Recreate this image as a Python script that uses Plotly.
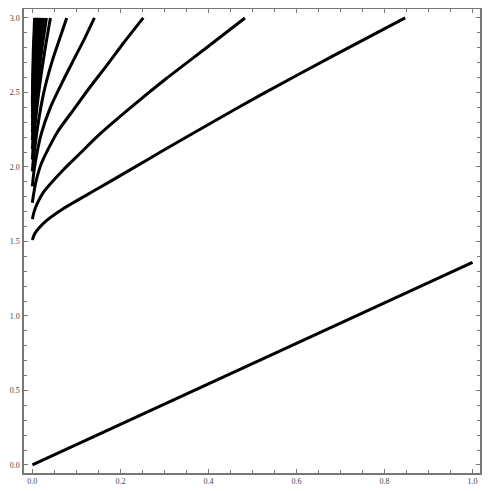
import plotly.graph_objects as go

# straight line
line_x = [0.0, 1.0]
line_y = [0.0, 1.36]

# main curves
c1_x = [0.0, 0.005, 0.015, 0.032, 0.07, 0.146, 0.222, 0.297, 0.403, 0.517, 0.68, 0.847]
c1_y = [1.51, 1.55, 1.59, 1.64, 1.72, 1.85, 1.98, 2.11, 2.29, 2.48, 2.74, 3.0]
c2_x = [0.0, 0.004, 0.012, 0.025, 0.07, 0.108, 0.153, 0.23, 0.305, 0.40, 0.483]
c2_y = [1.65, 1.70, 1.76, 1.83, 1.98, 2.09, 2.22, 2.415, 2.595, 2.81, 3.0]
c3_x = [0.0, 0.003, 0.008, 0.02, 0.056, 0.095, 0.132, 0.17, 0.208, 0.252]
c3_y = [1.76, 1.82, 1.90, 2.02, 2.23, 2.39, 2.54, 2.685, 2.835, 3.0]
c4_x = [0.0, 0.002, 0.005, 0.02, 0.041, 0.07, 0.094, 0.12, 0.141]
c4_y = [1.87, 1.93, 2.00, 2.22, 2.40, 2.58, 2.72, 2.87, 3.0]
c5_x = [0.0, 0.001, 0.004, 0.012, 0.026, 0.045, 0.062, 0.078]
c5_y = [1.97, 2.01, 2.09, 2.27, 2.50, 2.71, 2.86, 3.0]
c6_x = [0.0, 0.001, 0.003, 0.01, 0.02, 0.031, 0.041]
c6_y = [2.05, 2.10, 2.18, 2.39, 2.62, 2.83, 3.0]

# dense fan of curves near x = 0
f1_x = [0.0, 0.004, 0.012, 0.022, 0.032]
f1_y = [2.12, 2.30, 2.55, 2.80, 3.0]
f2_x = [0.0, 0.004, 0.010, 0.018, 0.026]
f2_y = [2.18, 2.38, 2.60, 2.83, 3.0]
f3_x = [0.0, 0.003, 0.008, 0.014, 0.021]
f3_y = [2.23, 2.42, 2.63, 2.84, 3.0]
f4_x = [0.0, 0.003, 0.007, 0.012, 0.017]
f4_y = [2.28, 2.47, 2.67, 2.86, 3.0]
f5_x = [0.0, 0.002, 0.005, 0.009, 0.013]
f5_y = [2.33, 2.50, 2.70, 2.88, 3.0]
f6_x = [0.0, 0.002, 0.004, 0.007, 0.010]
f6_y = [2.37, 2.54, 2.72, 2.89, 3.0]
f7_x = [0.0, 0.001, 0.003, 0.005, 0.007]
f7_y = [2.41, 2.57, 2.75, 2.90, 3.0]
f8_x = [0.0, 0.001, 0.002, 0.004, 0.005]
f8_y = [2.45, 2.60, 2.77, 2.92, 3.0]

x_ticks = [0.0, 0.2, 0.4, 0.6, 0.8, 1.0]
y_ticks = [0.0, 0.5, 1.0, 1.5, 2.0, 2.5, 3.0]

curves = [
    (line_x, line_y), (c1_x, c1_y), (c2_x, c2_y), (c3_x, c3_y), (c4_x, c4_y),
    (c5_x, c5_y), (c6_x, c6_y), (f1_x, f1_y), (f2_x, f2_y), (f3_x, f3_y),
    (f4_x, f4_y), (f5_x, f5_y), (f6_x, f6_y), (f7_x, f7_y), (f8_x, f8_y),
]

fig = go.Figure()
for xs, ys in curves:
    fig.add_trace(go.Scatter(x=xs, y=ys, mode="lines",
                             line=dict(color="black", width=3, shape="spline", smoothing=0.7),
                             showlegend=False, hoverinfo="skip"))

axis_common = dict(
    showgrid=False, zeroline=False, showline=True, linecolor="#777777", linewidth=1.5,
    mirror="allticks", ticks="inside", ticklen=4, tickcolor="#777777", tickwidth=1,
    tickformat=".1f", tickfont=dict(family="Liberation Serif", size=8, color="#444444"),
    automargin=False,
)
fig.update_xaxes(range=[-0.019, 1.017], tickvals=x_ticks,
                 minor=dict(dtick=0.05, tick0=0, ticks="inside", ticklen=3, tickcolor="#777777"),
                 **axis_common)
fig.update_yaxes(range=[-0.054, 3.06], tickvals=y_ticks, ticklabelstandoff=1,
                 minor=dict(dtick=0.1, tick0=0, ticks="inside", ticklen=3, tickcolor="#777777"),
                 **axis_common)
fig.update_layout(width=483, height=483, margin=dict(l=16, r=11, t=1, b=18),
                  plot_bgcolor="white", paper_bgcolor="white")
fig.write_html("out.html")
